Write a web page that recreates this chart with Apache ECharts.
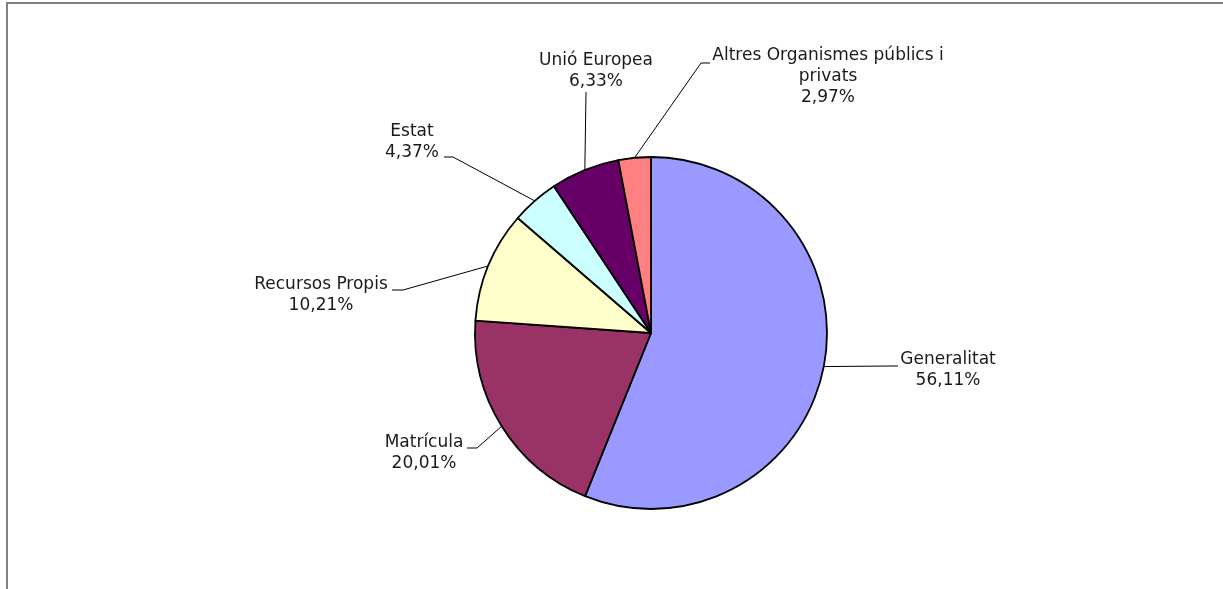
<!DOCTYPE html>
<html>
<head>
<meta charset="utf-8">
<script src="https://cdn.jsdelivr.net/npm/echarts@6/dist/echarts.min.js"></script>
<style>
html,body{margin:0;padding:0;background:#fff;}
#chart{width:1223px;height:589px;}
</style>
</head>
<body>
<div id="chart"></div>
<script>
// ---- data ----
var categories = ['Generalitat', 'Matrícula', 'Recursos Propis', 'Estat', 'Unió Europea', 'Altres Organismes públics i\nprivats'];
var values = [56.11, 20.01, 10.21, 4.37, 6.33, 2.97];
var colors = ['#9999FF', '#993366', '#FFFFCC', '#CCFFFF', '#660066', '#FF8080'];

// ---- layout (pixels) ----
var CX = 651, CY = 333, R = 176;
// label block centre, and leader line: elbow and end point
var labelPos = [[948, 370], [424, 453], [321, 295], [412, 142], [596, 71], [828, 77]];
var lineElbow = [[890, 366], [477, 448], [403, 290], [453, 157], [586, 92], [701, 63]];
var lineEnd = [[898, 366], [467, 448], [392, 290], [444, 157], [586, 92], [710, 63]];

var total = values.reduce(function (a, b) { return a + b; }, 0);
function edgePoint(i) {
  var before = 0;
  for (var k = 0; k < i; k++) before += values[k];
  var a = (before + values[i] / 2) / total * 2 * Math.PI;
  return [CX + R * Math.sin(a), CY - R * Math.cos(a)];
}

var chart = echarts.init(document.getElementById('chart'), null, { renderer: 'canvas' });
chart.setOption({
  animation: false,
  backgroundColor: '#ffffff',
  graphic: [{
    type: 'rect',
    shape: { x: 7, y: 3, width: 1300, height: 700 },
    style: { fill: 'none', stroke: '#808080', lineWidth: 2 },
    silent: true
  }],
  series: [{
    type: 'pie',
    center: [CX, CY],
    radius: R,
    startAngle: 90,
    clockwise: true,
    data: categories.map(function (c, i) {
      return { name: c, value: values[i], itemStyle: { color: colors[i] } };
    }),
    itemStyle: { borderColor: '#000', borderWidth: 1.8 },
    label: {
      show: true,
      position: 'outside',
      color: '#1a1a1a',
      fontFamily: 'Verdana, "DejaVu Sans", sans-serif',
      fontSize: 17,
      lineHeight: 21,
      align: 'center',
      formatter: function (p) {
        return p.name + '\n' + p.value.toFixed(2).replace('.', ',') + '%';
      }
    },
    labelLine: { show: true, lineStyle: { color: '#000', width: 1 } },
    labelLayout: function (p) {
      var i = p.dataIndex;
      return {
        x: labelPos[i][0],
        y: labelPos[i][1],
        align: 'center',
        verticalAlign: 'middle',
        labelLinePoints: [edgePoint(i), lineElbow[i], lineEnd[i]]
      };
    },
    emphasis: { disabled: true }
  }]
});
</script>
</body>
</html>
